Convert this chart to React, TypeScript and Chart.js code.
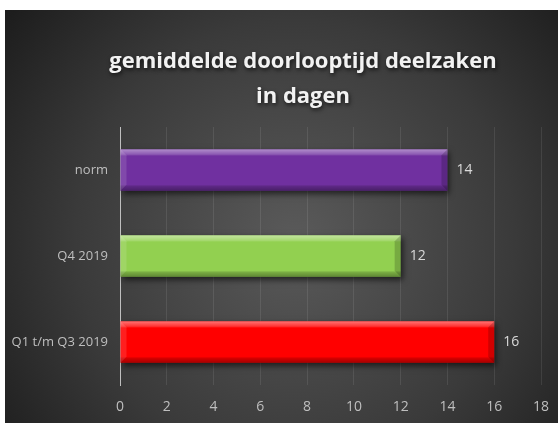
import React, { useEffect, useRef } from "react";
import { Chart, registerables } from "chart.js";

Chart.register(...registerables);

const categories = ["norm", "Q4 2019", "Q1 t/m Q3 2019"];
const values = [14, 12, 16];
const barColors = ["#7030A0", "#92D050", "#FF0000"];
const titleLines = ["gemiddelde doorlooptijd deelzaken", "in dagen"];
const xMin = 0;
const xMax = 18;
const xStep = 2;

const FONT = "'Open Sans', sans-serif";

const bgPlugin = {
  id: "bg",
  beforeDraw(chart: any) {
    const { ctx, width, height } = chart;
    ctx.save();
    const g = ctx.createRadialGradient(290, 230, 0, 290, 230, 400);
    g.addColorStop(0, "#5a5a5a");
    g.addColorStop(0.55, "#3a3a3a");
    g.addColorStop(1, "#161616");
    ctx.fillStyle = g;
    ctx.fillRect(0, 0, width, height);
    ctx.restore();
  },
};

const titlePlugin = {
  id: "customTitle",
  afterDraw(chart: any) {
    const { ctx } = chart;
    ctx.save();
    ctx.font = "bold 22px 'Open Sans', sans-serif";
    ctx.fillStyle = "#f2f2f2";
    ctx.textAlign = "center";
    ctx.textBaseline = "middle";
    ctx.shadowColor = "rgba(0,0,0,0.7)";
    ctx.shadowBlur = 4;
    ctx.shadowOffsetX = 1;
    ctx.shadowOffsetY = 2;
    titleLines.forEach((t, i) => ctx.fillText(t, 298, 52 + i * 35));
    ctx.restore();
  },
};

const barFxPlugin = {
  id: "barFx",
  beforeDatasetDraw(chart: any) {
    const { ctx } = chart;
    ctx.save();
    ctx.shadowColor = "rgba(0,0,0,0.6)";
    ctx.shadowBlur = 6;
    ctx.shadowOffsetX = 2;
    ctx.shadowOffsetY = 3;
  },
  afterDatasetDraw(chart: any) {
    const { ctx } = chart;
    ctx.restore();
    const meta = chart.getDatasetMeta(0);
    meta.data.forEach((bar: any, i: number) => {
      const left = bar.base;
      const right = bar.x;
      const top = bar.y - bar.height / 2;
      const h = bar.height;
      ctx.save();
      const g = ctx.createLinearGradient(0, top, 0, top + h);
      g.addColorStop(0, "rgba(255,255,255,0.45)");
      g.addColorStop(0.12, "rgba(255,255,255,0.2)");
      g.addColorStop(0.16, "rgba(255,255,255,0)");
      g.addColorStop(0.85, "rgba(0,0,0,0)");
      g.addColorStop(0.9, "rgba(0,0,0,0.18)");
      g.addColorStop(1, "rgba(0,0,0,0.35)");
      ctx.fillStyle = g;
      ctx.fillRect(left, top, right - left, h);
      const b = 6;
      ctx.beginPath();
      ctx.moveTo(right - b, top + b);
      ctx.lineTo(right, top);
      ctx.lineTo(right, top + h);
      ctx.lineTo(right - b, top + h - b);
      ctx.closePath();
      ctx.fillStyle = "rgba(0,0,0,0.18)";
      ctx.fill();
      ctx.beginPath();
      ctx.moveTo(left, top);
      ctx.lineTo(left + b, top + b);
      ctx.lineTo(left + b, top + h - b);
      ctx.lineTo(left, top + h);
      ctx.closePath();
      ctx.fillStyle = "rgba(255,255,255,0.12)";
      ctx.fill();
      ctx.font = `14px ${FONT}`;
      ctx.fillStyle = "#d9d9d9";
      ctx.textAlign = "left";
      ctx.textBaseline = "middle";
      ctx.fillText(String(values[i]), right + 9, bar.y);
      ctx.restore();
    });
  },
};

export default function App() {
  const ref = useRef<HTMLCanvasElement | null>(null);
  useEffect(() => {
    if (!ref.current) return;
    const chart = new Chart(ref.current, {
      type: "bar",
      data: {
        labels: categories,
        datasets: [
          {
            data: values,
            backgroundColor: barColors,
            borderWidth: 0,
            barPercentage: 0.48,
            categoryPercentage: 1,
          },
        ],
      },
      options: {
        indexAxis: "y",
        animation: false,
        responsive: false,
        layout: { padding: { top: 117, right: 17, left: 0, bottom: 0 } },
        plugins: { legend: { display: false }, tooltip: { enabled: false } },
        scales: {
          x: {
            min: xMin,
            max: xMax,
            ticks: {
              stepSize: xStep,
              color: "#bfbfbf",
              font: { family: FONT, size: 14 },
              padding: 14,
            },
            grid: { color: "rgba(255,255,255,0.09)", drawTicks: false },
            border: { display: false },
            afterFit: (s: any) => {
              s.height = 38;
              s.paddingLeft = 0;
              s.paddingRight = 0;
            },
          },
          y: {
            ticks: {
              color: "#bfbfbf",
              font: { family: FONT, size: 13 },
              padding: 12,
            },
            grid: { display: false, drawTicks: false },
            border: { display: true, color: "#bfbfbf", width: 1 },
            afterFit: (s: any) => {
              s.width = 115;
            },
          },
        },
      },
      plugins: [bgPlugin, barFxPlugin, titlePlugin],
    } as any);
    return () => chart.destroy();
  }, []);
  return (
    <div style={{ position: "absolute", left: 0, top: 0, width: 558, height: 423, background: "#fff" }}>
      <canvas ref={ref} width={553} height={413} style={{ position: "absolute", left: 5, top: 10 }} />
    </div>
  );
}
